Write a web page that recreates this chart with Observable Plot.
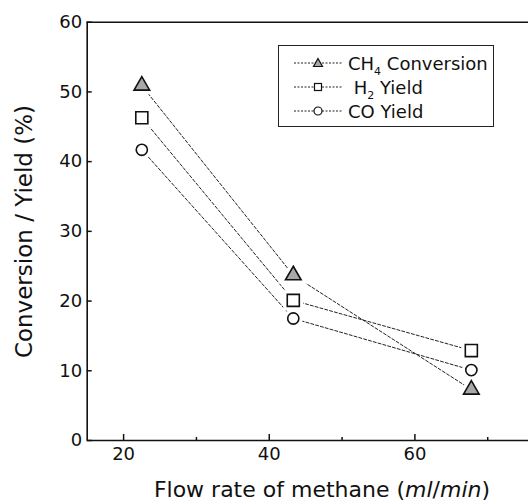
<!DOCTYPE html>
<html>
<head>
<meta charset="utf-8">
<script src="https://cdn.jsdelivr.net/npm/d3@7"></script>
<script src="https://cdn.jsdelivr.net/npm/@observablehq/plot@0.6"></script>
<style>
  html, body { margin: 0; padding: 0; background: #fff; overflow: hidden; }
  #wrap { position: relative; width: 528px; height: 504px; font-family: "DejaVu Sans", sans-serif; color: #111; }
  #wrap svg { position: absolute; left: 0; top: 0; }
  .ytitle { position: absolute; width: 320px; height: 23px; line-height: 23px; font-size: 23px; text-align: center;
            left: -136px; top: 219.5px; transform: rotate(-90deg); white-space: nowrap; }
  .xtitle { position: absolute; width: 400px; height: 22px; line-height: 22px; font-size: 22px; text-align: center;
            left: 122px; top: 479px; white-space: nowrap; }
  .legend { position: absolute; left: 278px; top: 45px; width: 214px; height: 80px; border: 1px solid #222; background: #fff; }
  .legend .row { position: absolute; left: 15px; height: 20px; display: flex; align-items: center; font-size: 18px; white-space: nowrap; }
  .legend svg { position: static !important; margin-right: 6px; }
  .legend sub { font-size: 11px; vertical-align: -5px; line-height: 0; }
</style>
</head>
<body>
<div id="wrap"></div>
<script>
const flowRate = [22.5, 43.3, 67.75];
const ch4Conversion = [50.9, 23.7, 7.3];
const h2Yield = [46.3, 20.1, 12.9];
const coYield = [41.7, 17.5, 10.1];
const yTicks = [0, 10, 20, 30, 40, 50, 60];
const xTicks = [20, 40, 60];
const xMinorTicks = [30, 50, 70];

const mk = (vals) => flowRate.map((x, i) => ({x, y: vals[i]}));
const sCH4 = mk(ch4Conversion), sH2 = mk(h2Yield), sCO = mk(coYield);

const lineOpts = {x: "x", y: "y", stroke: "#222", strokeWidth: 1, strokeDasharray: "3,2"};
const halo = (sym, r) => ({x: "x", y: "y", symbol: sym, r, fill: "white", stroke: "white", strokeWidth: 8});

const chart = Plot.plot({
  width: 528,
  height: 504,
  marginLeft: 86.7,
  marginRight: 0,
  marginTop: 21.7,
  marginBottom: 64,
  style: {fontFamily: "DejaVu Sans, sans-serif", fontSize: "18px", color: "#111", background: "transparent"},
  x: {domain: [15, 75.6]},
  y: {domain: [0, 60]},
  marks: [
    Plot.line(sCH4, lineOpts),
    Plot.line(sH2, lineOpts),
    Plot.line(sCO, lineOpts),
    Plot.dot(sCH4, halo("triangle", 5.8)),
    Plot.dot(sH2, halo("square", 6.8)),
    Plot.dot(sCO, halo("circle", 5.6)),
    Plot.dot(sCH4, {x: "x", y: "y", symbol: "triangle", r: 5.8, fill: "#a8a8a8", stroke: "#111", strokeWidth: 1.6}),
    Plot.dot(sH2, {x: "x", y: "y", symbol: "square", r: 6.8, fill: "white", stroke: "#111", strokeWidth: 1.6}),
    Plot.dot(sCO, {x: "x", y: "y", symbol: "circle", r: 5.6, fill: "white", stroke: "#111", strokeWidth: 1.6}),
    Plot.ruleX([15], {stroke: "#111", strokeWidth: 1.6}),
    Plot.ruleY([0, 60], {stroke: "#111", strokeWidth: 1.6}),
    Plot.axisY({ticks: yTicks, tickSize: -5, tickPadding: 10, label: null, fontSize: 18, strokeWidth: 1.5}),
    Plot.axisX({ticks: xTicks, tickSize: -6, tickPadding: 13, label: null, fontSize: 18, strokeWidth: 1.5}),
    Plot.axisX({ticks: xMinorTicks, tickSize: -3, tickFormat: () => "", label: null, strokeWidth: 1.5})
  ]
});

const wrap = document.getElementById("wrap");
wrap.appendChild(chart);

const yt = document.createElement("div");
yt.className = "ytitle";
yt.textContent = "Conversion / Yield (%)";
wrap.appendChild(yt);

const xt = document.createElement("div");
xt.className = "xtitle";
xt.innerHTML = "Flow rate of methane (<i>ml</i>/<i>min</i>)";
wrap.appendChild(xt);

const legendItems = [
  {label: "CH<sub>4</sub> Conversion", sym: "tri"},
  {label: "&nbsp;H<sub>2</sub> Yield", sym: "sq"},
  {label: "CO Yield", sym: "circ"}
];
const leg = document.createElement("div");
leg.className = "legend";
legendItems.forEach((it, i) => {
  const row = document.createElement("div");
  row.className = "row";
  row.style.top = (7 + i * 24) + "px";
  let symSvg;
  if (it.sym === "tri") symSvg = '<path d="M24,5.5 L28.5,13.5 L19.5,13.5 Z" fill="#a8a8a8" stroke="#111" stroke-width="1.2"/>';
  else if (it.sym === "sq") symSvg = '<rect x="20.5" y="6.5" width="7" height="7" fill="white" stroke="#111" stroke-width="1.2"/>';
  else symSvg = '<circle cx="24" cy="10" r="4" fill="white" stroke="#111" stroke-width="1.2"/>';
  row.innerHTML = '<svg width="48" height="20"><line x1="0" y1="10" x2="48" y2="10" stroke="#222" stroke-width="1" stroke-dasharray="2,1.5"/>' + symSvg + '</svg><span>' + it.label + '</span>';
  leg.appendChild(row);
});
wrap.appendChild(leg);
</script>
</body>
</html>
